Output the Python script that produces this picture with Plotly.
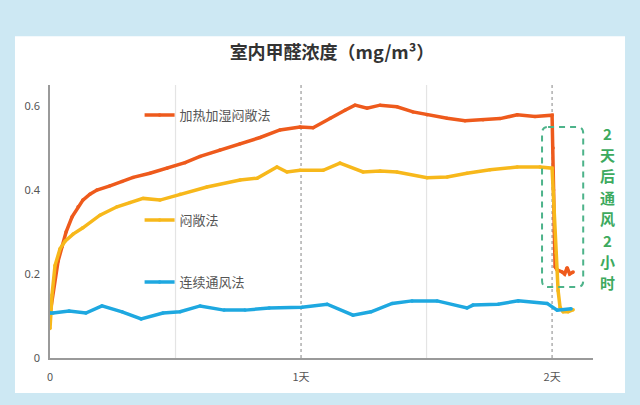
import plotly.graph_objects as go

# ---- data (time in days, concentration in mg/m3) ----
heat_t = [0.000, 0.004, 0.012, 0.020, 0.032, 0.048, 0.064, 0.088, 0.112, 0.131, 0.159, 0.187,
          0.239, 0.287, 0.331, 0.398, 0.466, 0.538, 0.598, 0.677, 0.757, 0.837, 0.916, 0.996,
          1.048, 1.116, 1.175, 1.215, 1.263, 1.315, 1.382, 1.446, 1.502, 1.582, 1.653, 1.725,
          1.793, 1.861, 1.932, 2.000, 2.004, 2.006, 2.009, 2.012, 2.020, 2.040, 2.050, 2.060,
          2.070, 2.084]
heat_v = [0.105, 0.120, 0.160, 0.190, 0.230, 0.265, 0.300, 0.336, 0.360, 0.376, 0.390, 0.400,
          0.410, 0.420, 0.430, 0.440, 0.452, 0.465, 0.480, 0.495, 0.510, 0.525, 0.543, 0.550,
          0.548, 0.571, 0.590, 0.602, 0.595, 0.602, 0.598, 0.586, 0.579, 0.571, 0.565, 0.567,
          0.570, 0.579, 0.575, 0.578, 0.500, 0.400, 0.300, 0.217, 0.210, 0.205, 0.200, 0.215,
          0.200, 0.205]

close_t = [0.000, 0.008, 0.020, 0.040, 0.060, 0.092, 0.131, 0.199, 0.267, 0.319, 0.371, 0.438,
           0.518, 0.625, 0.757, 0.825, 0.904, 0.944, 0.996, 1.088, 1.155, 1.247, 1.315, 1.382,
           1.502, 1.582, 1.661, 1.753, 1.861, 1.952, 2.000, 2.008, 2.016, 2.024, 2.032, 2.044,
           2.064, 2.084]
close_v = [0.070, 0.150, 0.220, 0.260, 0.278, 0.295, 0.310, 0.340, 0.360, 0.370, 0.380, 0.376,
           0.390, 0.407, 0.424, 0.428, 0.455, 0.443, 0.447, 0.447, 0.464, 0.443, 0.445, 0.443,
           0.429, 0.431, 0.440, 0.448, 0.455, 0.455, 0.452, 0.350, 0.250, 0.160, 0.120, 0.110,
           0.110, 0.115]

vent_t = [0.000, 0.012, 0.076, 0.143, 0.207, 0.287, 0.363, 0.450, 0.518, 0.598, 0.693, 0.777,
          0.873, 1.004, 1.104, 1.207, 1.279, 1.363, 1.442, 1.542, 1.661, 1.685, 1.785, 1.865,
          1.980, 2.020, 2.076]
vent_v = [0.107, 0.107, 0.112, 0.107, 0.124, 0.110, 0.093, 0.107, 0.110, 0.124, 0.114, 0.114,
          0.119, 0.121, 0.128, 0.102, 0.110, 0.130, 0.136, 0.136, 0.119, 0.126, 0.128, 0.136,
          0.130, 0.114, 0.117]

names = ["加热加湿闷敞法", "闷敞法", "连续通风法"]
colors = ["#EE5A1C", "#F7B81B", "#1EA8E0"]

x_tickvals = [0, 1, 2]
x_ticktext = ["0", "1天", "2天"]
y_tickvals = [0, 0.2, 0.4, 0.6]
y_ticktext = ["0", "0.2", "0.4", "0.6"]

title_text = "室内甲醛浓度（mg/m³）"
note_chars = ["2", "天", "后", "通", "风", "2", "小", "时"]

CJK = "Noto Sans CJK SC"
W, H = 640, 405
ML, MR, MT, MB = 50, 47, 85, 47

fig = go.Figure()
series = [(heat_t, heat_v), (close_t, close_v), (vent_t, vent_v)]
legends = ["legend", "legend2", "legend3"]
for (t, v), n, c, lg in zip(series, names, colors, legends):
    fig.add_trace(go.Scatter(
        x=t, y=v, name=n, mode="lines+markers",
        line=dict(color=c, width=3.5),
        marker=dict(color=c, size=3.5, symbol="circle"),
        legend=lg, showlegend=True,
    ))

leg_common = dict(bgcolor="rgba(0,0,0,0)", font=dict(family=CJK, size=13, color="#555"),
                  xanchor="left", yanchor="middle", itemwidth=30)
fig.update_layout(
    width=W, height=H,
    margin=dict(l=ML, r=MR, t=MT, b=MB),
    showlegend=True,
    paper_bgcolor="#CDE8F3",
    plot_bgcolor="rgba(0,0,0,0)",
    title=dict(text="<b>" + title_text + "</b>", x=332 / W, xanchor="center",
               y=1 - 53 / H, yanchor="middle",
               font=dict(family=CJK, size=18, color="#333")),
    legend=dict(x=0.165, y=0.89, **leg_common),
    legend2=dict(x=0.165, y=0.505, **leg_common),
    legend3=dict(x=0.165, y=0.278, **leg_common),
    xaxis=dict(range=[0, 2.163], tickvals=x_tickvals, ticktext=x_ticktext,
               showgrid=False, zeroline=False, showline=True, linecolor="#9A9A9A",
               linewidth=1.5, ticks="", ticklabelstandoff=8,
               tickfont=dict(family=CJK, size=11, color="#555")),
    yaxis=dict(range=[0, 0.65], tickvals=y_tickvals, ticktext=y_ticktext,
               showgrid=False, zeroline=False, showline=True, linecolor="#9A9A9A",
               linewidth=1.5, ticks="", ticklabelstandoff=6,
               tickfont=dict(family="Noto Sans", size=11, color="#555")),
)

# white panel
fig.add_shape(type="rect", xref="paper", yref="paper", x0=-0.0645, x1=1.059, y0=-0.128, y1=1.179,
              fillcolor="white", line=dict(width=0), layer="below")
# vertical guide lines
for xv, dash, col in [(0.5, "solid", "#E4E4E4"), (1.5, "solid", "#E4E4E4"),
                      (1, "3px,3px", "#9A9A9A"), (2, "3px,3px", "#9A9A9A")]:
    fig.add_shape(type="line", xref="x", yref="paper", x0=xv, x1=xv, y0=0, y1=1,
                  line=dict(color=col, width=1.2, dash=dash), layer="below")

# dashed rounded box around the ventilation drop
x0, x1, y0, y1 = 1.960, 2.124, 0.169, 0.550
rx, ry = 0.024, 0.015
path = (f"M {x0+rx},{y1} L {x1-rx},{y1} Q {x1},{y1} {x1},{y1-ry} L {x1},{y0+ry} "
        f"Q {x1},{y0} {x1-rx},{y0} L {x0+rx},{y0} Q {x0},{y0} {x0},{y0+ry} "
        f"L {x0},{y1-ry} Q {x0},{y1} {x0+rx},{y1} Z")
fig.add_shape(type="path", path=path, xref="x", yref="y",
              line=dict(color="#4DB38A", width=2, dash="6px,5px"))

# vertical note, one character per annotation
ph = H - MT - MB
pw = W - ML - MR
for i, ch in enumerate(note_chars):
    ypx = 133 + i * 21.4
    fig.add_annotation(xref="paper", yref="paper", x=(607 - ML) / pw, y=(H - MB - ypx) / ph,
                       xanchor="center", yanchor="middle", text="<b>" + ch + "</b>",
                       showarrow=False, font=dict(family=CJK, size=15, color="#3DAA5E"))

fig.write_html("out.html", config={"displayModeBar": False},
               post_script="document.body.style.margin='0';document.body.style.padding='0';")
